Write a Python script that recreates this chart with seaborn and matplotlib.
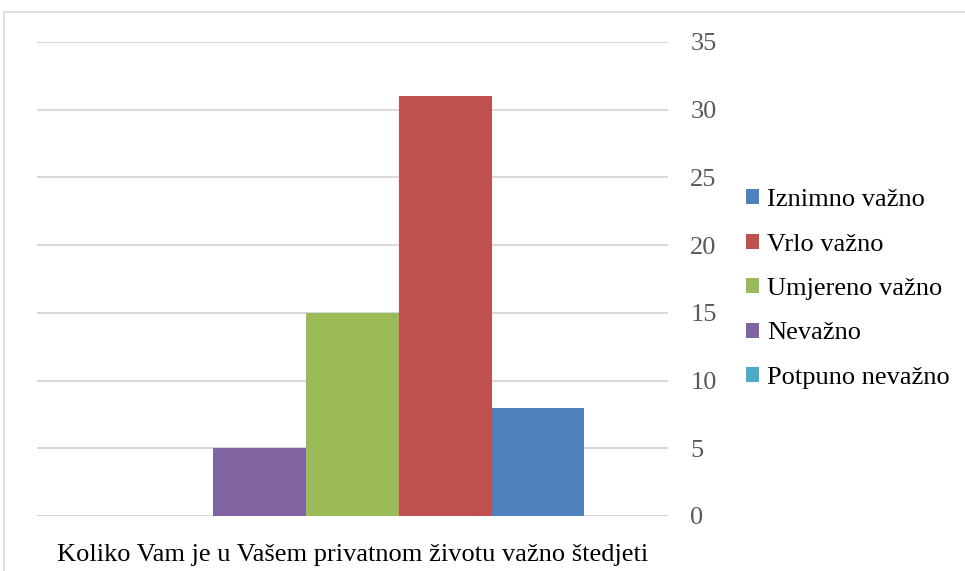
import seaborn as sns
import matplotlib.pyplot as plt
import pandas as pd
from matplotlib.patches import Rectangle

# data
question = "Koliko Vam je u Vašem privatnom životu važno štedjeti"
answers = ["Iznimno važno", "Vrlo važno", "Umjereno važno", "Nevažno", "Potpuno nevažno"]
counts = [8, 31, 15, 5, 0]
colors = ["#4F81BD", "#C0504D", "#9BBB59", "#8064A2", "#4BACC6"]
y_ticks = [0, 5, 10, 15, 20, 25, 30, 35]

df = pd.DataFrame({"pitanje": [question] * len(answers), "odgovor": answers, "broj": counts})

sns.set_style("white")
plt.rcParams["font.family"] = ["Liberation Serif", "DejaVu Serif"]

fig = plt.figure(figsize=(9.65, 5.71), dpi=100)
ax = fig.add_axes([37 / 965, 1 - 516 / 571, (668 - 37) / 965, (516 - 42) / 571])

sns.barplot(data=df, x="pitanje", y="broj", hue="odgovor", hue_order=answers,
            palette=colors, width=0.735, saturation=1, linewidth=0, ax=ax, legend=True)

ax.set_xlim(-0.5, 0.5)
ax.invert_xaxis()
ax.set_ylim(0, 35)
ax.set_yticks(y_ticks)
ax.yaxis.tick_right()
ax.grid(axis="y", color="#D9D9D9", linewidth=1.5)
ax.set_axisbelow(True)
for s in ax.spines.values():
    s.set_visible(False)
ax.tick_params(axis="y", length=0, pad=16, labelsize=19, labelcolor="#595959")
ax.tick_params(axis="x", length=0, pad=20, labelsize=19, labelcolor="black")
ax.set_xlabel("")
ax.set_ylabel("")

handles, labels = ax.get_legend_handles_labels()
ax.legend(handles, labels, loc="center left", bbox_to_anchor=(746 / 965, 1 - 289 / 571),
          bbox_transform=fig.transFigure, frameon=False, fontsize=19, labelcolor="black",
          handlelength=0.5, handleheight=0.5, handletextpad=0.3,
          labelspacing=0.85, borderaxespad=0, borderpad=0)

# outer chart frame
fig.patches.append(Rectangle((4 / 965, -0.1), 1.2, 1 - 12 / 571 + 0.1,
                             transform=fig.transFigure, fill=False,
                             edgecolor="#D9D9D9", linewidth=1.2, clip_on=False))

fig.savefig("out.png", dpi=100)
